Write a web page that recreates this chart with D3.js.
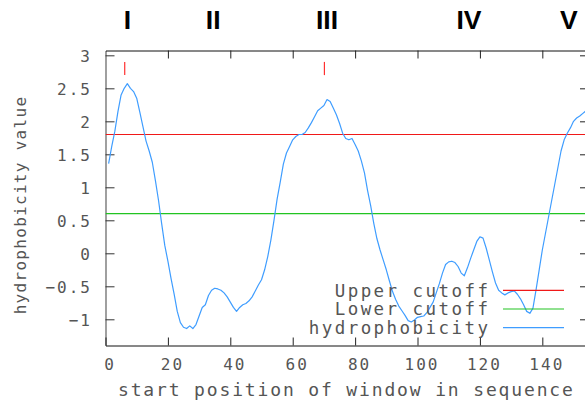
<!DOCTYPE html>
<html>
<head>
<meta charset="utf-8">
<script src="https://cdn.jsdelivr.net/npm/d3@7/dist/d3.min.js"></script>
<style>
  html, body { margin: 0; padding: 0; background: #fff; }
  svg { display: block; }
</style>
</head>
<body>
<div id="chart"></div>
<script>
(function(d3) {
  'use strict';

  // hydrophobicity per window start position (1..154)
  var hydrophobicity = [
    1.36, 1.62, 1.85, 2.15, 2.40, 2.50, 2.57, 2.50, 2.45, 2.35,
    2.14, 1.92, 1.70, 1.55, 1.38, 1.10, 0.80, 0.45, 0.12, -0.12,
    -0.38, -0.62, -0.88, -1.05, -1.12, -1.14, -1.10, -1.14, -1.08, -0.95,
    -0.82, -0.78, -0.64, -0.56, -0.53, -0.54, -0.56, -0.60, -0.66, -0.74,
    -0.82, -0.88, -0.82, -0.78, -0.76, -0.72, -0.66, -0.57, -0.48, -0.40,
    -0.25, -0.05, 0.20, 0.50, 0.82, 1.08, 1.35, 1.52, 1.62, 1.72,
    1.77, 1.80, 1.80, 1.83, 1.90, 1.98, 2.07, 2.16, 2.20, 2.24,
    2.33, 2.30, 2.20, 2.10, 1.97, 1.82, 1.74, 1.72, 1.74, 1.65,
    1.55, 1.40, 1.22, 0.95, 0.72, 0.45, 0.22, 0.05, -0.10, -0.25,
    -0.42, -0.58, -0.70, -0.80, -0.87, -0.94, -1.02, -1.04, -1.01, -0.97,
    -0.96, -0.95, -0.90, -0.82, -0.74, -0.60, -0.46, -0.30, -0.17, -0.13,
    -0.12, -0.14, -0.20, -0.30, -0.34, -0.22, -0.08, 0.05, 0.18, 0.25,
    0.23, 0.08, -0.10, -0.28, -0.45, -0.56, -0.60, -0.63, -0.60, -0.58,
    -0.57, -0.62, -0.69, -0.78, -0.88, -0.91, -0.83, -0.55, -0.25, 0.05,
    0.30, 0.55, 0.80, 1.05, 1.30, 1.55, 1.72, 1.82, 1.90, 2.00,
    2.05, 2.08, 2.12, 2.16
  ];

  var upperCutoff = 1.8;
  var lowerCutoff = 0.6;

  // peaks above the upper cutoff
  var peakMarks = [6, 70];

  // segment numerals above the plot
  var segmentLabels = ['I', 'II', 'III', 'IV', 'V'];
  var segmentPos = [7, 34.5, 71, 116.5, 148.5];

  var xTicks = [0, 20, 40, 60, 80, 100, 120, 140];
  var yTicks = [-1, -0.5, 0, 0.5, 1, 1.5, 2, 2.5, 3];
  var yTickLabels = ['\u22121', '\u22120.5', '0', '0.5', '1', '1.5', '2', '2.5', '3'];

  var legendLabels = ['Upper cutoff', 'Lower cutoff', 'hydrophobicity'];
  var legendColors = ['#f01818', '#22c422', '#3f9dff'];

  var width = 585;
  var height = 402;
  var left = 105.5, right = 586, top = 50.5, bottom = 345.5;

  var x = d3.scaleLinear().domain([0, 154]).range([left, right]);
  var y = d3.scaleLinear().domain([-1.397, 3.073]).range([bottom, top]);

  var mono = 'DejaVu Sans Mono, monospace';
  var textColor = '#555';

  var svg = d3.select('#chart')
    .append('svg')
    .attr('width', width)
    .attr('height', height);

  svg.append('clipPath')
    .attr('id', 'plot-clip')
    .append('rect')
    .attr('x', left).attr('y', top)
    .attr('width', right - left).attr('height', bottom - top);

  // axes
  var gLeft = svg.append('g')
    .attr('transform', 'translate(' + left + ',0)')
    .call(d3.axisLeft(y).tickValues(yTicks).tickSize(-9).tickSizeOuter(0).tickPadding(13.5)
      .tickFormat(function(d, i) { return yTickLabels[i]; }));
  gLeft.select('.domain').attr('stroke', '#777').attr('stroke-width', 1.4);
  gLeft.selectAll('.tick line').attr('stroke', '#333');
  gLeft.selectAll('text')
    .attr('font-family', mono).attr('font-size', 16)
    .attr('letter-spacing', 2).attr('fill', textColor)
    .attr('dy', '0.36em');

  var gBottom = svg.append('g')
    .attr('transform', 'translate(0,' + bottom + ')')
    .call(d3.axisBottom(x).tickValues(xTicks).tickSize(-8).tickSizeOuter(0));
  gBottom.select('.domain').attr('stroke', '#111');
  gBottom.selectAll('.tick line').attr('stroke', '#222');
  gBottom.selectAll('text')
    .attr('font-family', mono).attr('font-size', 16)
    .attr('letter-spacing', 2).attr('fill', textColor)
    .attr('y', 24.5).attr('dy', null).attr('dx', 4);

  var gTop = svg.append('g')
    .attr('transform', 'translate(0,' + top + ')')
    .call(d3.axisTop(x).tickValues(xTicks.slice(1)).tickSize(-8).tickSizeOuter(0).tickFormat(''));
  gTop.select('.domain').attr('stroke', '#111');
  gTop.selectAll('.tick line').attr('stroke', '#222');

  var gRight = svg.append('g')
    .attr('transform', 'translate(' + right + ',0)')
    .call(d3.axisRight(y).tickValues(yTicks).tickSize(-6).tickSizeOuter(0).tickFormat(''));
  gRight.select('.domain').attr('stroke', '#111');
  gRight.selectAll('.tick line').attr('stroke', '#222');

  // cutoff lines
  var plot = svg.append('g').attr('clip-path', 'url(#plot-clip)');

  plot.append('line')
    .attr('x1', x(0)).attr('x2', x(154))
    .attr('y1', y(upperCutoff)).attr('y2', y(upperCutoff))
    .attr('stroke', legendColors[0]).attr('stroke-width', 1.2);

  plot.append('line')
    .attr('x1', x(0)).attr('x2', x(154))
    .attr('y1', y(lowerCutoff)).attr('y2', y(lowerCutoff))
    .attr('stroke', legendColors[1]).attr('stroke-width', 1.2);

  // hydrophobicity curve
  var line = d3.line()
    .x(function(d, i) { return x(i + 1); })
    .y(function(d) { return y(d); });

  plot.append('path')
    .datum(hydrophobicity)
    .attr('d', line)
    .attr('fill', 'none')
    .attr('stroke', legendColors[2])
    .attr('stroke-width', 1.2)
    .attr('stroke-linejoin', 'round');

  // peak markers
  svg.selectAll('.peak')
    .data(peakMarks)
    .enter()
    .append('line')
    .attr('class', 'peak')
    .attr('x1', function(d) { return x(d) + 0.5; })
    .attr('x2', function(d) { return x(d) + 0.5; })
    .attr('y1', y(2.9)).attr('y2', y(2.7))
    .attr('stroke', '#ff3030').attr('stroke-width', 1.2);

  // segment numerals
  svg.selectAll('.segment')
    .data(segmentLabels)
    .enter()
    .append('text')
    .attr('class', 'segment')
    .attr('x', function(d, i) { return x(segmentPos[i]); })
    .attr('y', 29)
    .attr('text-anchor', 'middle')
    .attr('font-family', 'Liberation Sans, Arial, sans-serif')
    .attr('font-weight', 'bold')
    .attr('font-size', 26.5)
    .attr('fill', '#000')
    .text(function(d) { return d; });

  // legend
  var legend = svg.selectAll('.legend')
    .data(legendLabels)
    .enter()
    .append('g')
    .attr('class', 'legend')
    .attr('transform', function(d, i) { return 'translate(0,' + (290.3 + i * 18.7) + ')'; });

  legend.append('text')
    .attr('x', 490.5)
    .attr('y', 6.4)
    .attr('text-anchor', 'end')
    .attr('font-family', mono).attr('font-size', 17.5)
    .attr('letter-spacing', 2.45).attr('fill', textColor)
    .text(function(d) { return d; });

  legend.append('line')
    .attr('x1', 503).attr('x2', 564)
    .attr('y1', 0).attr('y2', 0)
    .attr('stroke', function(d, i) { return legendColors[i]; })
    .attr('stroke-width', 1.2);

  // axis titles
  svg.append('text')
    .attr('x', 118)
    .attr('y', 396)
    .attr('font-family', mono).attr('font-size', 18)
    .attr('letter-spacing', 1.85).attr('fill', textColor)
    .text('start position of window in sequence');

  svg.append('text')
    .attr('transform', 'translate(26,205) rotate(-90)')
    .attr('text-anchor', 'middle')
    .attr('font-family', mono).attr('font-size', 16)
    .attr('letter-spacing', 1.3).attr('fill', textColor)
    .text('hydrophobicity value');
})(window.d3);
</script>
</body>
</html>
